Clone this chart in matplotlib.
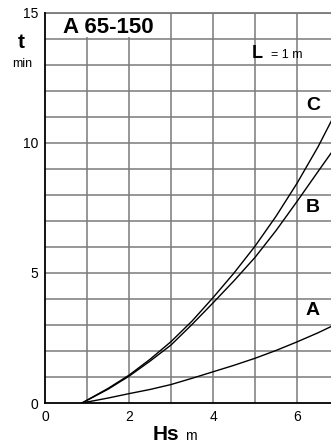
import matplotlib

matplotlib.use("Agg")
import matplotlib.pyplot as plt
from matplotlib.patches import Rectangle

plt.rcParams["font.family"] = ["Liberation Sans", "DejaVu Sans"]

# values (Hs in m, t in min)
HS = [0.88, 1.5, 2.0, 2.5, 3.0, 3.5, 4.0, 4.5, 5.0, 5.5, 6.0, 6.5, 6.85]
T_A = [0, 0.19, 0.36, 0.52, 0.71, 0.95, 1.2, 1.45, 1.72, 2.02, 2.35, 2.7, 2.97]
T_B = [0, 0.53, 1.03, 1.61, 2.23, 3.02, 3.85, 4.7, 5.6, 6.63, 7.75, 8.9, 9.7]
T_C = [0, 0.56, 1.07, 1.68, 2.36, 3.15, 4.05, 5.0, 6.03, 7.18, 8.45, 9.85, 10.95]
CURVES = [("A", T_A, 3.55), ("B", T_B, 7.5), ("C", T_C, 11.45)]
X_TICKS = [0, 2, 4, 6]
Y_TICKS = [0, 5, 10, 15]

GRID = "#7a7a7a"

fig = plt.figure(figsize=(3.31, 4.48), dpi=100)
ax = fig.add_axes([45 / 331, 1 - 403 / 448, 286 / 331, 390 / 448])
ax.set_xlim(0, 286 / 42)
ax.set_ylim(0, 15)

# grid every 1 m / 1 min
for x in range(1, 7):
    ax.axvline(x, color=GRID, lw=1.1, zorder=1)
for y in range(1, 16):
    ax.axhline(y, color=GRID, lw=1.1, zorder=1)

# title box in top-left cell block
ax.add_patch(Rectangle((0.02, 14.08), 2.93, 0.9, facecolor="white",
                       edgecolor="none", zorder=2))
ax.text(0.43, 14.45, "A 65-150", fontsize=16, fontweight="bold",
        ha="left", va="center", zorder=3)

for name, t, ylab in CURVES:
    ax.plot(HS, t, color="black", lw=1.0, zorder=4)
    ax.text(6.38, ylab, name, fontsize=14, fontweight="bold",
            ha="center", va="center", zorder=5)

ax.text(5.05, 13.45, "L", fontsize=13, fontweight="bold", ha="center", va="center")
ax.text(5.38, 13.38, "= 1 m", fontsize=9, ha="left", va="center")

for side in ["top", "right"]:
    ax.spines[side].set_visible(False)
ax.axhline(15, color=GRID, lw=1.3, zorder=1, clip_on=False)
ax.spines["left"].set_color("black")
ax.spines["bottom"].set_color("black")
ax.spines["left"].set_linewidth(1.3)
ax.spines["bottom"].set_linewidth(1.3)

ax.set_xticks(X_TICKS)
ax.set_yticks(Y_TICKS)
ax.tick_params(length=0, labelsize=10, pad=5)

fig.text(21 / 331, 1 - 43 / 448, "t", fontsize=15, fontweight="bold",
         ha="center", va="center")
fig.text(22 / 331, 1 - 64 / 448, "min", fontsize=9, ha="center", va="center")
fig.text(153 / 331, 1 - 434 / 448, "Hs", fontsize=15, fontweight="bold",
         ha="left", va="center")
fig.text(185 / 331, 1 - 436 / 448, "m", fontsize=10, ha="left", va="center")

fig.savefig("out.png", dpi=100)
